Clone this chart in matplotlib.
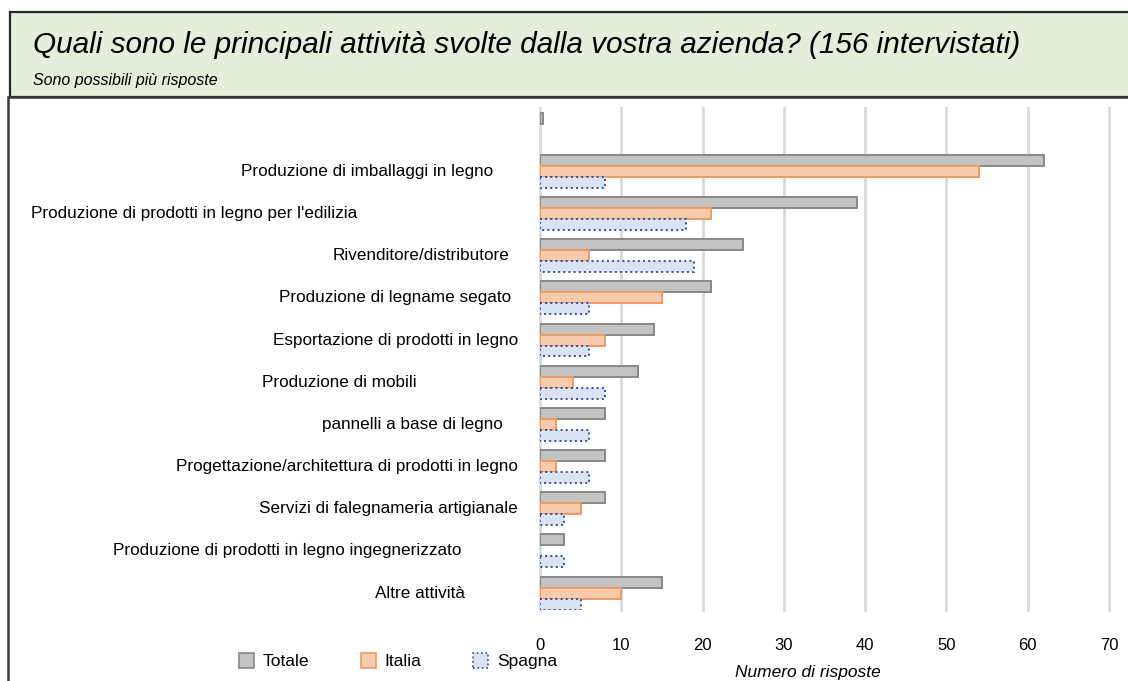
import matplotlib.pyplot as plt
from matplotlib.patches import Rectangle, Patch
from matplotlib.transforms import blended_transform_factory
import numpy as np

plt.rcParams['font.family'] = ['Liberation Sans', 'DejaVu Sans']

# DATA
categories = [
    '',
    'Produzione di imballaggi in legno',
    "Produzione di prodotti in legno per l'edilizia",
    'Rivenditore/distributore',
    'Produzione di legname segato',
    'Esportazione di prodotti in legno',
    'Produzione di mobili',
    'pannelli a base di legno',
    'Progettazione/architettura di prodotti in legno',
    'Servizi di falegnameria artigianale',
    'Produzione di prodotti in legno ingegnerizzato',
    'Altre attività',
]
totale = [0.4, 62, 39, 25, 21, 14, 12, 8, 8, 8, 3, 15]
italia = [0, 54, 21, 6, 15, 8, 4, 2, 2, 5, 0, 10]
spagna = [0, 8, 18, 19, 6, 6, 8, 6, 6, 3, 3, 5]
series_names = ['Totale', 'Italia', 'Spagna']
x_ticks = [0, 10, 20, 30, 40, 50, 60, 70]

TITLE = 'Quali sono le principali attività svolte dalla vostra azienda? (156 intervistati)'
SUBTITLE = 'Sono possibili più risposte'
XLABEL = 'Numero di risposte'

# LAYOUT (pixels of the 1128x681 picture)
W, H = 1128, 681
label_right_px = [0, 493, 357, 509, 511, 518, 417, 503, 518, 518, 461, 465]

GRAY = ('#c3c3c3', '#888888', '-')
ORANGE = ('#f8cbad', '#ee9a62', '-')
BLUE = ('#dae3f3', '#2f4f9f', ':')

fig = plt.figure(figsize=(W / 100, H / 100), dpi=100)

# header box
fig.patches.append(Rectangle((10 / W, 1 - 97 / H), 1.2, 85 / H, transform=fig.transFigure,
                             facecolor='#e2efda', edgecolor='#262626', linewidth=1.6, zorder=0))
# chart box
fig.patches.append(Rectangle((8 / W, -0.1), 1.2, 1 - 97 / H + 0.1, transform=fig.transFigure,
                             facecolor='none', edgecolor='#3a3a3a', linewidth=1.8, zorder=0))

fig.text(33 / W, 1 - 45 / H, TITLE, fontsize=21.4, style='italic', va='center', ha='left')
fig.text(33 / W, 1 - 81 / H, SUBTITLE, fontsize=11.5, style='italic', va='center', ha='left')

ax = fig.add_axes([540 / W, 1 - 610 / H, 569 / W, 502 / H])

y = np.arange(len(categories))
h = 0.26
for offs, vals, (fc, ec, ls) in zip([-h, 0, h], [totale, italia, spagna], [GRAY, ORANGE, BLUE]):
    bars = ax.barh(y + offs, vals, height=h, facecolor=fc, edgecolor=ec, linewidth=1.4,
                   linestyle=ls, zorder=3)
    for b, v in zip(bars, vals):
        if v <= 0:
            b.set_visible(False)

ax.set_xlim(0, 70)
ax.set_ylim(11.4, -0.5)
ax.set_xticks(x_ticks)
ax.set_yticks([])
ax.grid(axis='x', color='#d9d9d9', linewidth=2, zorder=0)
for gl in ax.get_xgridlines():
    gl.set_clip_on(False)
for s in ax.spines.values():
    s.set_visible(False)
ax.tick_params(axis='x', length=0, pad=20, labelsize=12)

trans = blended_transform_factory(fig.transFigure, ax.transData)
for i, lab in enumerate(categories):
    if lab:
        ax.text(label_right_px[i] / W, i, lab, transform=trans, ha='right', va='center',
                fontsize=12.3)

fig.text(808 / W, 1 - 673 / H, XLABEL, fontsize=12.5, style='italic', ha='center', va='center')

handles = [Patch(facecolor=c[0], edgecolor=c[1], linestyle=c[2], linewidth=1.2)
           for c in [GRAY, ORANGE, BLUE]]
fig.legend(handles, series_names, loc='center', bbox_to_anchor=(398 / W, 1 - 661 / H),
           ncol=3, frameon=False, fontsize=12.5, handlelength=0.85, handleheight=1.0,
           handletextpad=0.5, columnspacing=3.0)

fig.savefig('out.png', dpi=100)
